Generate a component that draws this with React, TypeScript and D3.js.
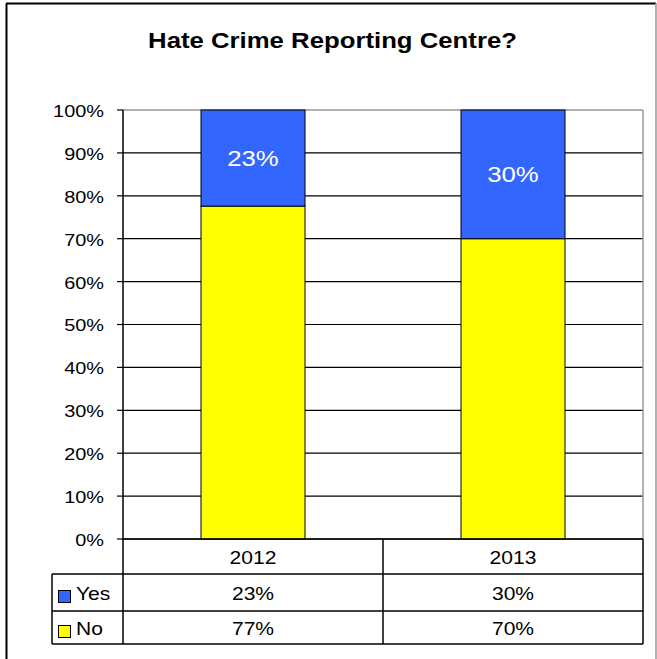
import React from "react";
import * as d3 from "d3";

const years = ["2012", "2013"];
const noValues = [0.776, 0.7];
const yesValues = [0.224, 0.3];
const yesLabels = ["23%", "30%"];
const noLabels = ["77%", "70%"];
const yTicks = [0, 0.1, 0.2, 0.3, 0.4, 0.5, 0.6, 0.7, 0.8, 0.9, 1.0];
const title = "Hate Crime Reporting Centre?";

const W = 657;
const H = 659;
const left = 123;
const right = 643;
const top = 110;
const bottom = 539;
const rowYear = 574;
const rowYes = 611;
const rowNo = 644;
const tableLeft = 52;
const SX = 1.17;
const FONT = "'Liberation Sans', Arial, sans-serif";

function T({ x, y, size, anchor = "middle", weight = "normal", fill = "#000", children }: any) {
  return (
    <text
      transform={`translate(${x},${y}) scale(${SX},1)`}
      textAnchor={anchor}
      fontSize={size}
      fontWeight={weight}
      fill={fill}
      fontFamily={FONT}
      dominantBaseline="central"
    >
      {children}
    </text>
  );
}

export default function App() {
  const x = d3.scaleBand().domain(years).range([left, right]).paddingInner(0.6).paddingOuter(0.3);
  const y = d3.scaleLinear().domain([0, 1]).range([bottom, top]);
  const fmt = d3.format(".0%");
  const colStep = (right - left) / years.length;
  const colX = (i: number) => left + colStep * i;

  return (
    <svg width={W} height={H} style={{ position: "absolute", left: 0, top: 0, background: "#fff" }}>
      {/* outer border */}
      <line x1={6.5} y1={3.5} x2={6.5} y2={H} stroke="#000" strokeWidth={2} />
      <line x1={6} y1={3.5} x2={656} y2={3.5} stroke="#000" strokeWidth={2} />
      <line x1={656} y1={3} x2={656} y2={H} stroke="#999" strokeWidth={1.5} />

      <T x={W / 2 + 4} y={40} size={22} weight="bold">{title}</T>

      {/* gridlines */}
      {yTicks.map((t) => (
        <line
          key={t}
          x1={left}
          x2={right}
          y1={y(t)}
          y2={y(t)}
          stroke={t === 1 ? "#999" : "#000"}
          strokeWidth={t === 1 ? 1.5 : 1.2}
        />
      ))}
      <line x1={right} x2={right} y1={top} y2={bottom} stroke="#999" strokeWidth={1.5} />

      {/* bars */}
      {years.map((yr, i) => (
        <g key={yr}>
          <rect
            x={x(yr)}
            width={x.bandwidth()}
            y={y(noValues[i])}
            height={y(0) - y(noValues[i])}
            fill="#FFFF00"
            stroke="#000"
            strokeWidth={1}
          />
          <rect
            x={x(yr)}
            width={x.bandwidth()}
            y={y(noValues[i] + yesValues[i])}
            height={y(noValues[i]) - y(noValues[i] + yesValues[i])}
            fill="#3366FF"
            stroke="#000"
            strokeWidth={1}
          />
          <T
            x={(x(yr) as number) + x.bandwidth() / 2}
            y={(y(noValues[i]) + y(noValues[i] + yesValues[i])) / 2}
            size={22}
            fill="#fff"
          >
            {yesLabels[i]}
          </T>
        </g>
      ))}

      {/* y axis */}
      <line x1={left} x2={left} y1={top} y2={rowYear} stroke="#000" strokeWidth={1.5} />
      {yTicks.map((t) => (
        <g key={"tk" + t}>
          <line x1={left - 6} x2={left} y1={y(t)} y2={y(t)} stroke="#000" strokeWidth={1.2} />
          <T x={104} y={y(t) + 1} size={17} anchor="end">
            {fmt(t)}
          </T>
        </g>
      ))}

      {/* data table */}
      <line x1={left} x2={right} y1={bottom} y2={bottom} stroke="#000" strokeWidth={1.5} />
      <line x1={tableLeft} x2={right} y1={rowYear} y2={rowYear} stroke="#000" strokeWidth={1.5} />
      <line x1={tableLeft} x2={right} y1={rowYes} y2={rowYes} stroke="#000" strokeWidth={1.5} />
      <line x1={tableLeft} x2={right} y1={rowNo} y2={rowNo} stroke="#000" strokeWidth={1.5} />
      <line x1={tableLeft} x2={tableLeft} y1={rowYear} y2={rowNo} stroke="#000" strokeWidth={1.5} />
      <line x1={left} x2={left} y1={rowYear} y2={rowNo} stroke="#000" strokeWidth={1.5} />
      {years.map((yr, i) => (
        <line key={"c" + yr} x1={colX(i + 1)} x2={colX(i + 1)} y1={bottom} y2={rowNo} stroke="#000" strokeWidth={1.5} />
      ))}
      {years.map((yr, i) => (
        <g key={"t" + yr}>
          <T x={colX(i) + colStep / 2} y={(bottom + rowYear) / 2 + 1} size={18}>
            {yr}
          </T>
          <T x={colX(i) + colStep / 2} y={(rowYear + rowYes) / 2 + 1} size={18}>
            {yesLabels[i]}
          </T>
          <T x={colX(i) + colStep / 2} y={(rowYes + rowNo) / 2 + 1} size={18}>
            {noLabels[i]}
          </T>
        </g>
      ))}
      {/* legend keys */}
      <rect x={58.5} y={590.5} width={12} height={12} fill="#3366FF" stroke="#000" strokeWidth={1} />
      <rect x={58.5} y={625.5} width={12} height={12} fill="#FFFF00" stroke="#000" strokeWidth={1} />
      <T x={76} y={(rowYear + rowYes) / 2 + 1} size={18} anchor="start">Yes</T>
      <T x={76} y={(rowYes + rowNo) / 2 + 1} size={18} anchor="start">No</T>
    </svg>
  );
}
